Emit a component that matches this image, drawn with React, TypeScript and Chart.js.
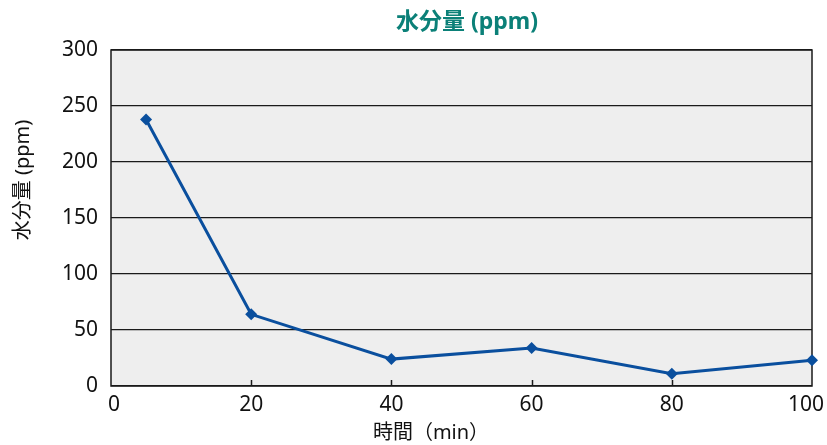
import { useEffect, useRef } from 'react';
import { Chart, registerables } from 'chart.js';

Chart.register(...registerables);

// Elapsed time (min) and measured moisture content (ppm)
const TIMES = [5, 20, 40, 60, 80, 100];
const MOISTURE = [238, 64, 24, 34, 11, 23];

const X_TICK_VALUES = [0, 20, 40, 60, 80, 100];

const CHART_TITLE = '水分量 (ppm)';
const Y_TITLE = '水分量 (ppm)';
const X_TITLE = '時間（min）';

const FONT = "'Noto Sans', 'Noto Sans CJK JP', sans-serif";
const LINE_BLUE = '#0a4f9e';
const TITLE_TEAL = '#0b8078';
const INK = '#111111';

const framePlugin = {
  id: 'frame',
  beforeDraw(chart: any) {
    const { ctx, chartArea } = chart;
    const { left, top, right, bottom } = chartArea;
    ctx.save();
    ctx.fillStyle = '#eeeeee';
    ctx.fillRect(left, top, right - left, bottom - top);
    ctx.restore();
  },
  beforeDatasetsDraw(chart: any) {
    const { ctx, chartArea, scales } = chart;
    const { left, top, right, bottom } = chartArea;
    ctx.save();
    ctx.strokeStyle = '#1a1a1a';
    ctx.lineWidth = 1.5;
    ctx.strokeRect(left, top, right - left, bottom - top);
    // short inward tick marks along the bottom edge
    X_TICK_VALUES.slice(1, -1).forEach((v) => {
      const px = Math.round(scales.x.getPixelForValue(v)) + 0.5;
      ctx.beginPath();
      ctx.moveTo(px, bottom);
      ctx.lineTo(px, bottom - 6);
      ctx.stroke();
    });
    ctx.restore();
  },
  afterDraw(chart: any) {
    const { ctx, scales, chartArea } = chart;
    ctx.save();
    ctx.textAlign = 'center';
    ctx.textBaseline = 'middle';

    // x tick labels, centred under each tick
    ctx.fillStyle = INK;
    ctx.font = `21px ${FONT}`;
    X_TICK_VALUES.forEach((v, i) => {
      let px = scales.x.getPixelForValue(v);
      if (i === 0) px += 3;
      if (i === X_TICK_VALUES.length - 1) px -= 6;
      ctx.fillText(String(v), px, chartArea.bottom + 19);
    });

    ctx.fillStyle = TITLE_TEAL;
    ctx.font = `bold 23px ${FONT}`;
    ctx.fillText(CHART_TITLE, 467, 22);

    ctx.fillStyle = INK;
    ctx.font = `20px ${FONT}`;
    ctx.fillText(X_TITLE, 431, 433);

    ctx.translate(23, 180);
    ctx.rotate(-Math.PI / 2);
    ctx.fillText(Y_TITLE, 0, 0);
    ctx.restore();
  },
};

export default function App() {
  const canvasRef = useRef<HTMLCanvasElement | null>(null);

  useEffect(() => {
    document.body.style.margin = '0';
    const canvas = canvasRef.current;
    if (!canvas) return;

    const chart = new Chart(canvas, {
      type: 'line',
      data: {
        datasets: [
          {
            data: TIMES.map((t, i) => ({ x: t, y: MOISTURE[i] })),
            borderColor: LINE_BLUE,
            backgroundColor: LINE_BLUE,
            borderWidth: 3,
            pointStyle: 'rectRot',
            pointRadius: 6,
            pointBorderWidth: 0,
            pointBackgroundColor: LINE_BLUE,
            tension: 0,
            clip: false,
          },
        ],
      },
      options: {
        responsive: false,
        animation: false,
        layout: { padding: { top: 50, right: 15, left: 0, bottom: 0 } },
        plugins: {
          legend: { display: false },
          title: { display: false },
          tooltip: { enabled: false },
        },
        scales: {
          x: {
            type: 'linear',
            min: 0,
            max: 100,
            afterFit(scale: any) {
              scale.height = 59;
            },
            ticks: { display: false, stepSize: 20 },
            grid: { display: false, drawTicks: false },
            border: { display: false },
          },
          y: {
            min: 0,
            max: 300,
            afterFit(scale: any) {
              scale.width = 111;
            },
            ticks: {
              stepSize: 50,
              color: INK,
              font: { family: FONT, size: 21 },
              padding: 13,
            },
            grid: { color: '#1a1a1a', lineWidth: 1.3, drawTicks: false },
            border: { display: false },
          },
        },
      },
      plugins: [framePlugin],
    });

    return () => chart.destroy();
  }, []);

  return (
    <div style={{ width: 827, height: 445, background: '#ffffff' }}>
      <canvas ref={canvasRef} width={827} height={445} />
    </div>
  );
}
